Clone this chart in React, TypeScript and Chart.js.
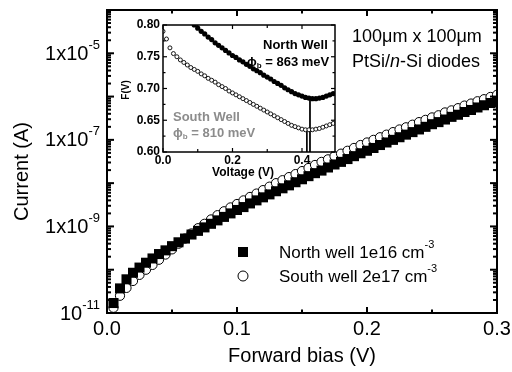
import React, { useEffect, useRef } from "react";
import { Chart, registerables } from "chart.js";
Chart.register(...registerables);

const FF = '"Liberation Sans", Arial, Helvetica, sans-serif';

// ---- main chart data ----
const biasV = [0.005, 0.01, 0.015, 0.02, 0.025, 0.03, 0.035, 0.04, 0.045, 0.05, 0.055, 0.06, 0.065, 0.07, 0.075, 0.08, 0.085, 0.09, 0.095, 0.1, 0.105, 0.11, 0.115, 0.12, 0.125, 0.13, 0.135, 0.14, 0.145, 0.15, 0.155, 0.16, 0.165, 0.17, 0.175, 0.18, 0.185, 0.19, 0.195, 0.2, 0.205, 0.21, 0.215, 0.22, 0.225, 0.23, 0.235, 0.24, 0.245, 0.25, 0.255, 0.26, 0.265, 0.27, 0.275, 0.28, 0.285, 0.29, 0.295, 0.3];
const northCurrent = [
  1.7e-11, 3.7e-11, 6.0e-11, 8.5e-11, 1.12e-10, 1.45e-10, 1.82e-10, 2.3e-10, 2.8e-10, 3.5e-10,
  4.3e-10, 5.25e-10, 6.5e-10, 7.9e-10, 9.5e-10, 1.15e-9, 1.38e-9, 1.66e-9, 2.0e-9, 2.4e-9,
  2.8e-9, 3.4e-9, 4.0e-9, 4.7e-9, 5.5e-9, 6.5e-9, 7.6e-9, 8.9e-9, 1.05e-8, 1.23e-8,
  1.45e-8, 1.7e-8, 1.95e-8, 2.3e-8, 2.7e-8, 3.1e-8, 3.6e-8, 4.2e-8, 4.9e-8, 5.6e-8,
  6.5e-8, 7.6e-8, 8.7e-8, 1.0e-7, 1.15e-7, 1.32e-7, 1.51e-7, 1.74e-7, 2.0e-7, 2.3e-7,
  2.57e-7, 2.95e-7, 3.4e-7, 3.8e-7, 4.4e-7, 4.9e-7, 5.6e-7, 6.3e-7, 7.1e-7, 7.9e-7,
];
const southCurrent = [
  1.32e-11, 2.5e-11, 3.8e-11, 5.5e-11, 7.6e-11, 1.0e-10, 1.29e-10, 1.7e-10, 2.24e-10, 2.95e-10,
  3.98e-10, 5.25e-10, 6.9e-10, 9.1e-10, 1.15e-9, 1.45e-9, 1.82e-9, 2.24e-9, 2.75e-9, 3.3e-9,
  4.0e-9, 4.8e-9, 5.75e-9, 6.9e-9, 8.3e-9, 1.0e-8, 1.17e-8, 1.38e-8, 1.62e-8, 1.9e-8,
  2.24e-8, 2.63e-8, 3.1e-8, 3.55e-8, 4.2e-8, 4.8e-8, 5.6e-8, 6.5e-8, 7.6e-8, 8.7e-8,
  1.0e-7, 1.15e-7, 1.32e-7, 1.51e-7, 1.74e-7, 1.95e-7, 2.24e-7, 2.57e-7, 2.9e-7, 3.3e-7,
  3.7e-7, 4.3e-7, 4.8e-7, 5.4e-7, 6.2e-7, 6.9e-7, 7.8e-7, 8.7e-7, 9.8e-7, 1.1e-6,
];
const mainXMajor = [0, 0.1, 0.2, 0.3];
const mainXLabels = ["0.0", "0.1", "0.2", "0.3"];
const mainXMinor = [0.05, 0.15, 0.25];
const mainYLabelExps = [-11, -9, -7, -5];
const mainYLabelPrefix = ["", "1x", "1x", "1x"];
const mainYDecades = [-11, -10, -9, -8, -7, -6, -5];

// ---- inset data ----
const insetSouthV = [0, 0.01, 0.02, 0.03, 0.04, 0.05, 0.06, 0.07, 0.08, 0.09, 0.1, 0.11, 0.12, 0.13, 0.14, 0.15, 0.16, 0.17, 0.18, 0.19, 0.2, 0.21, 0.22, 0.23, 0.24, 0.25, 0.26, 0.27, 0.28, 0.29, 0.3, 0.31, 0.32, 0.33, 0.34, 0.35, 0.36, 0.37, 0.38, 0.39, 0.4, 0.41, 0.42, 0.43, 0.44, 0.45, 0.46, 0.47, 0.48, 0.49];
const insetSouthF = [
  0.79, 0.778, 0.764, 0.755, 0.75, 0.745, 0.741, 0.737, 0.733, 0.73,
  0.727, 0.723, 0.72, 0.716, 0.713, 0.71, 0.706, 0.703, 0.7, 0.696,
  0.693, 0.69, 0.687, 0.684, 0.681, 0.678, 0.675, 0.672, 0.669, 0.666,
  0.663, 0.66, 0.657, 0.654, 0.651, 0.648, 0.645, 0.642, 0.64, 0.638,
  0.636, 0.635, 0.635, 0.635, 0.636, 0.637, 0.639, 0.641, 0.643, 0.645,
];
const insetNorthV = [0.09, 0.1, 0.11, 0.12, 0.13, 0.14, 0.15, 0.16, 0.17, 0.18, 0.19, 0.2, 0.21, 0.22, 0.23, 0.24, 0.25, 0.26, 0.27, 0.28, 0.29, 0.3, 0.31, 0.32, 0.33, 0.34, 0.35, 0.36, 0.37, 0.38, 0.39, 0.4, 0.41, 0.42, 0.43, 0.44, 0.45, 0.46, 0.47, 0.48, 0.49];
const insetNorthF = [
  0.8, 0.795, 0.79, 0.786, 0.781, 0.777, 0.772, 0.768, 0.764, 0.76,
  0.756, 0.752, 0.749, 0.745, 0.742, 0.738, 0.735, 0.731, 0.728, 0.725,
  0.721, 0.718, 0.715, 0.711, 0.708, 0.705, 0.701, 0.698, 0.695, 0.692,
  0.69, 0.688, 0.686, 0.685, 0.684, 0.684, 0.685, 0.686, 0.688, 0.69,
  0.692,
];
const northMarkerV = [0.423, 0.423];
const northMarkerF = [0.684, 0.6];
const southMarkerV = [0.414, 0.414];
const southMarkerF = [0.635, 0.6];
const insetXMajor = [0, 0.2, 0.4];
const insetXLabels = ["0.0", "0.2", "0.4"];
const insetXMinor = [0.1, 0.3];
const insetYMajor = [0.6, 0.65, 0.7, 0.75, 0.8];
const insetYLabels = ["0.60", "0.65", "0.70", "0.75", "0.80"];
const insetYMinor = [0.625, 0.675, 0.725, 0.775];

type Seg = { t: string; font: string; dy?: number; color?: string };
function drawSegs(ctx: CanvasRenderingContext2D, segs: Seg[], x: number, y: number, align: "left" | "right" | "center") {
  const widths = segs.map((s) => {
    ctx.font = s.font;
    return ctx.measureText(s.t).width;
  });
  const total = widths.reduce((a, b) => a + b, 0);
  let cx = align === "right" ? x - total : align === "center" ? x - total / 2 : x;
  ctx.textAlign = "left";
  ctx.textBaseline = "middle";
  segs.forEach((s, i) => {
    ctx.font = s.font;
    if (s.color) ctx.fillStyle = s.color;
    ctx.fillText(s.t, cx, y + (s.dy || 0));
    cx += widths[i];
  });
}

function line(ctx: CanvasRenderingContext2D, x1: number, y1: number, x2: number, y2: number) {
  ctx.beginPath();
  ctx.moveTo(x1, y1);
  ctx.lineTo(x2, y2);
  ctx.stroke();
}

const mainDecor = {
  id: "mainDecor",
  afterDraw(chart: any) {
    const ctx: CanvasRenderingContext2D = chart.ctx;
    const { left, right, top, bottom } = chart.chartArea;
    const xs = chart.scales.x;
    const ys = chart.scales.y;
    ctx.save();
    ctx.strokeStyle = "#000";
    ctx.fillStyle = "#000";
    ctx.lineWidth = 2;
    ctx.strokeRect(left, top, right - left, bottom - top);
    // x ticks
    mainXMajor.forEach((v) => {
      const p = xs.getPixelForValue(v);
      line(ctx, p, bottom, p, bottom - 6);
      line(ctx, p, top, p, top + 6);
    });
    mainXMinor.forEach((v) => {
      const p = xs.getPixelForValue(v);
      line(ctx, p, bottom, p, bottom - 3.5);
      line(ctx, p, top, p, top + 3.5);
    });
    // y ticks (log)
    mainYDecades.forEach((e) => {
      for (let k = 1; k <= 9; k++) {
        const val = k * Math.pow(10, e);
        const p = ys.getPixelForValue(val);
        if (p < top - 0.5 || p > bottom + 0.5) continue;
        const len = k === 1 ? 7 : 4;
        line(ctx, left, p, left + len, p);
        line(ctx, right, p, right - len, p);
      }
    });
    // x labels
    ctx.fillStyle = "#000";
    mainXMajor.forEach((v, i) => {
      drawSegs(ctx, [{ t: mainXLabels[i], font: `20px ${FF}` }], xs.getPixelForValue(v), bottom + 16, "center");
    });
    // y labels
    mainYLabelExps.forEach((e, i) => {
      const p = ys.getPixelForValue(Math.pow(10, e));
      drawSegs(
        ctx,
        [
          { t: mainYLabelPrefix[i] + "10", font: `20px ${FF}` },
          { t: "-" + Math.abs(e), font: `13px ${FF}`, dy: -9 },
        ],
        left - 7,
        p + 1,
        "right"
      );
    });
    // axis titles
    drawSegs(ctx, [{ t: "Forward bias (V)", font: `20px ${FF}` }], (left + right) / 2, 356, "center");
    ctx.save();
    ctx.translate(22, (top + bottom) / 2 + 10);
    ctx.rotate(-Math.PI / 2);
    drawSegs(ctx, [{ t: "Current (A)", font: `20px ${FF}` }], 0, 0, "center");
    ctx.restore();
    // annotation
    drawSegs(ctx, [{ t: "100\u03bcm x 100\u03bcm", font: `18px ${FF}` }], 352, 37, "left");
    drawSegs(
      ctx,
      [
        { t: "PtSi/", font: `18px ${FF}` },
        { t: "n", font: `italic 18px ${FF}` },
        { t: "-Si diodes", font: `18px ${FF}` },
      ],
      352,
      62,
      "left"
    );
    // legend
    ctx.fillStyle = "#000";
    ctx.fillRect(238, 247, 10, 10);
    ctx.lineWidth = 1;
    ctx.beginPath();
    ctx.arc(243, 276, 5, 0, Math.PI * 2);
    ctx.fillStyle = "#fff";
    ctx.fill();
    ctx.stroke();
    ctx.fillStyle = "#000";
    drawSegs(
      ctx,
      [
        { t: "North well 1e16 cm", font: `17px ${FF}` },
        { t: "-3", font: `11px ${FF}`, dy: -8 },
      ],
      279,
      253,
      "left"
    );
    drawSegs(
      ctx,
      [
        { t: "South well 2e17 cm", font: `17px ${FF}` },
        { t: "-3", font: `11px ${FF}`, dy: -8 },
      ],
      279,
      277,
      "left"
    );
    ctx.restore();
  },
};

const insetDecor = {
  id: "insetDecor",
  beforeDatasetsDraw(chart: any) {
    const ctx: CanvasRenderingContext2D = chart.ctx;
    const { left, right, top, bottom } = chart.chartArea;
    ctx.save();
    ctx.fillStyle = "#fff";
    ctx.fillRect(left, top, right - left, bottom - top);
    ctx.restore();
  },
  afterDraw(chart: any) {
    const ctx: CanvasRenderingContext2D = chart.ctx;
    const { left, right, top, bottom } = chart.chartArea;
    const xs = chart.scales.x;
    const ys = chart.scales.y;
    ctx.save();
    ctx.strokeStyle = "#000";
    ctx.fillStyle = "#000";
    ctx.lineWidth = 1.5;
    ctx.strokeRect(left, top, right - left, bottom - top);
    ctx.lineWidth = 1.2;
    insetXMajor.concat(insetXMinor).forEach((v) => {
      const p = xs.getPixelForValue(v);
      const len = insetXMajor.includes(v) ? 4 : 3;
      line(ctx, p, bottom, p, bottom - len);
      line(ctx, p, top, p, top + len);
    });
    insetYMajor.concat(insetYMinor).forEach((v) => {
      const p = ys.getPixelForValue(v);
      const len = insetYMajor.includes(v) ? 4 : 2.5;
      line(ctx, left, p, left + len, p);
      line(ctx, right, p, right - len, p);
    });
    insetXMajor.forEach((v, i) => {
      drawSegs(ctx, [{ t: insetXLabels[i], font: `bold 12px ${FF}` }], xs.getPixelForValue(v), bottom + 9, "center");
    });
    insetYMajor.forEach((v, i) => {
      drawSegs(ctx, [{ t: insetYLabels[i], font: `bold 12px ${FF}` }], left - 3, ys.getPixelForValue(v), "right");
    });
    drawSegs(ctx, [{ t: "Voltage (V)", font: `bold 12px ${FF}` }], 130, 158, "center");
    ctx.save();
    ctx.translate(13, 75);
    ctx.rotate(-Math.PI / 2);
    drawSegs(ctx, [{ t: "F(V)", font: `bold 10px ${FF}` }], 0, 0, "center");
    ctx.restore();
    // annotations
    drawSegs(ctx, [{ t: "North Well", font: `bold 13px ${FF}` }], 150, 30, "left");
    drawSegs(
      ctx,
      [
        { t: "\u03d5", font: `bold 13px ${FF}` },
        { t: "b", font: `bold 8px ${FF}`, dy: 4 },
        { t: " = 863 meV", font: `bold 13px ${FF}` },
      ],
      134,
      47,
      "left"
    );
    const gray = "#8c8c8c";
    drawSegs(ctx, [{ t: "South Well", font: `bold 13px ${FF}`, color: gray }], 60, 102, "left");
    drawSegs(
      ctx,
      [
        { t: "\u03d5", font: `bold 13px ${FF}`, color: gray },
        { t: "b", font: `bold 8px ${FF}`, dy: 4 },
        { t: " = 810 meV", font: `bold 13px ${FF}` },
      ],
      60,
      118,
      "left"
    );
    ctx.restore();
  },
};

export default function App() {
  const mainRef = useRef<HTMLCanvasElement>(null);
  const insetRef = useRef<HTMLCanvasElement>(null);
  useEffect(() => {
    const main = new Chart(mainRef.current!, {
      type: "scatter",
      data: {
        datasets: [
          {
            label: "North well 1e16 cm-3",
            data: biasV.map((v, i) => ({ x: v, y: northCurrent[i] })),
            pointStyle: "rect",
            pointRadius: 7.1,
            backgroundColor: "#000",
            borderColor: "#000",
            borderWidth: 0,
          },
          {
            label: "South well 2e17 cm-3",
            data: biasV.map((v, i) => ({ x: v, y: southCurrent[i] })),
            pointStyle: "circle",
            pointRadius: 4.6,
            backgroundColor: "#fff",
            borderColor: "#000",
            borderWidth: 1,
          },
        ],
      },
      options: {
        responsive: false,
        animation: false,
        events: [],
        layout: { padding: { left: 107, right: 15, top: 10, bottom: 59 } },
        scales: {
          x: { type: "linear", min: 0, max: 0.3, display: false },
          y: { type: "logarithmic", min: 1e-11, max: 1e-4, display: false },
        },
        plugins: { legend: { display: false }, tooltip: { enabled: false } },
      },
      plugins: [mainDecor],
    } as any);
    const inset = new Chart(insetRef.current!, {
      type: "scatter",
      data: {
        datasets: [
          {
            label: "North",
            data: insetNorthV.map((v, i) => ({ x: v, y: insetNorthF[i] })),
            pointStyle: "circle",
            pointRadius: 2.6,
            backgroundColor: "#000",
            borderColor: "#000",
            borderWidth: 0,
          },
          {
            label: "South",
            data: insetSouthV.map((v, i) => ({ x: v, y: insetSouthF[i] })),
            pointStyle: "circle",
            pointRadius: 2,
            backgroundColor: "#fff",
            borderColor: "#000",
            borderWidth: 0.9,
          },
          {
            label: "north min",
            data: northMarkerV.map((v, i) => ({ x: v, y: northMarkerF[i] })),
            showLine: true,
            pointRadius: 0,
            borderColor: "#000",
            borderWidth: 1,
          },
          {
            label: "south min",
            data: southMarkerV.map((v, i) => ({ x: v, y: southMarkerF[i] })),
            showLine: true,
            pointRadius: 0,
            borderColor: "#000",
            borderWidth: 1,
          },
        ],
      },
      options: {
        responsive: false,
        animation: false,
        events: [],
        layout: { padding: { left: 50, right: 8, top: 10, bottom: 35 } },
        scales: {
          x: { type: "linear", min: 0, max: 0.495, display: false },
          y: { type: "linear", min: 0.6, max: 0.8, display: false },
        },
        plugins: { legend: { display: false }, tooltip: { enabled: false } },
      },
      plugins: [insetDecor],
    } as any);
    return () => {
      main.destroy();
      inset.destroy();
    };
  }, []);
  return (
    <div style={{ position: "fixed", left: 0, top: 0, width: 512, height: 372, background: "#fff" }}>
      <canvas ref={mainRef} width={512} height={372} style={{ position: "absolute", left: 0, top: 0, width: 512, height: 372 }} />
      <canvas ref={insetRef} width={230} height={172} style={{ position: "absolute", left: 113, top: 15, width: 230, height: 172 }} />
    </div>
  );
}
